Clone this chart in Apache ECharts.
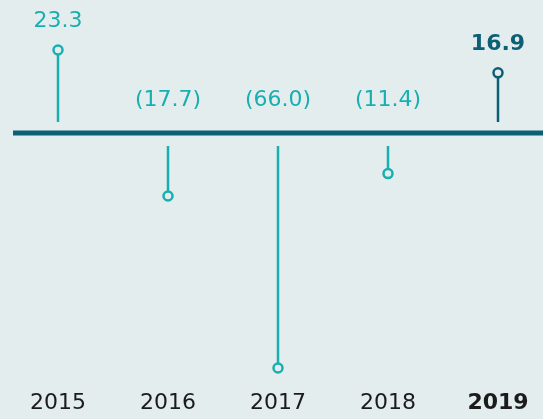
<!DOCTYPE html>
<html>
<head>
<meta charset="utf-8">
<script src="https://cdn.jsdelivr.net/npm/echarts@6/dist/echarts.min.js"></script>
<style>
html,body{margin:0;padding:0;background:#e3edee;}
#chart{width:543px;height:419px;}
</style>
</head>
<body>
<div id="chart"></div>
<script>
var years = ['2015', '2016', '2017', '2018', '2019'];
var values = [23.3, -17.7, -66.0, -11.4, 16.9];
var highlightIndex = 4;

var TEAL = '#18afb1';
var DARK = '#0c5f74';
var BG = '#e3edee';
var FONT = 'DejaVu Sans';

function fmt(v) {
  return v < 0 ? '(' + Math.abs(v).toFixed(1) + ')' : v.toFixed(1);
}

var chart = echarts.init(document.getElementById('chart'), null, {renderer: 'canvas'});

chart.setOption({
  backgroundColor: BG,
  animation: false,
  grid: {left: 58, width: 440, top: 8.4, height: 373.8},
  xAxis: {
    type: 'category',
    data: years,
    boundaryGap: false,
    axisLine: {show: false},
    axisTick: {show: false},
    axisLabel: {
      interval: 0,
      margin: 10,
      fontFamily: FONT,
      fontSize: 22,
      color: '#1b1b1b',
      formatter: function (v, i) {
        return i === highlightIndex ? '{b|' + v + '}' : v;
      },
      rich: {b: {fontFamily: FONT, fontSize: 22, fontWeight: 'bold', color: '#1b1b1b'}}
    }
  },
  yAxis: {
    type: 'value', min: -70, max: 35, show: false,
    splitLine: {show: false}
  },
  series: [
    {
      type: 'custom',
      data: [0],
      silent: true,
      z: 1,
      renderItem: function (params, api) {
        var cs = params.coordSys;
        var y0 = api.coord([0, 0])[1];
        return {
          type: 'line',
          shape: {x1: cs.x - 45, y1: y0, x2: cs.x + cs.width + 50, y2: y0},
          style: {stroke: DARK, lineWidth: 5}
        };
      }
    },
    {
      type: 'custom',
      data: values.map(function (v, i) { return [i, v]; }),
      z: 2,
      renderItem: function (params, api) {
        var i = api.value(0);
        var v = api.value(1);
        var p = api.coord([i, v]);
        var z0 = api.coord([i, 0]);
        var pos = v >= 0;
        var col = i === highlightIndex ? DARK : TEAL;
        var stemStart = pos ? z0[1] - 11 : z0[1] + 13;
        var labelY = pos ? p[1] - 29 : z0[1] - 33;
        return {
          type: 'group',
          children: [
            {type: 'line', shape: {x1: p[0], y1: stemStart, x2: p[0], y2: p[1]},
             style: {stroke: col, lineWidth: 2.5}},
            {type: 'circle', shape: {cx: p[0], cy: p[1], r: 4.5},
             style: {fill: BG, stroke: col, lineWidth: 2.5}},
            {type: 'text', x: p[0], y: labelY,
             style: {text: fmt(v), fill: col, align: 'center', verticalAlign: 'middle',
                     fontFamily: FONT, fontSize: 22,
                     fontWeight: i === highlightIndex ? 'bold' : 'normal'}}
          ]
        };
      }
    }
  ]
});
</script>
</body>
</html>
